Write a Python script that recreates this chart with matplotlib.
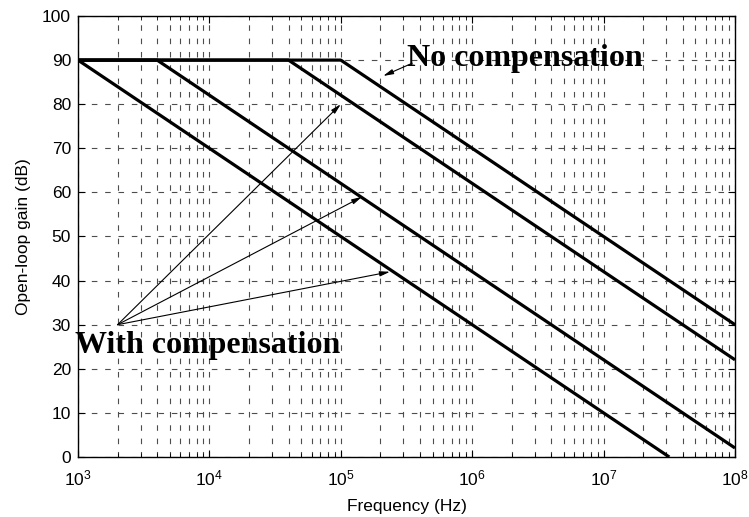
import matplotlib
matplotlib.use("Agg")
import matplotlib.pyplot as plt
import numpy as np
from matplotlib.ticker import LogLocator, LogFormatterMathtext, NullFormatter

# Data: corner frequencies (Hz) of each open-loop response, DC gain, slope
corner_freqs = [1e3, 4e3, 4e4, 1e5]
dc_gain = 90.0
slope_db_per_dec = -20.0
f_min, f_max = 1e3, 1e8

# Annotation data
arrow_origin = (2e3, 30)
arrow_tips = [(1.0e5, 80), (1.45e5, 59), (2.37e5, 42)]
nocomp_text_pos = (3.19e5, 88.7)
nocomp_arrow_from = (3.5e5, 89.3)
nocomp_arrow_to = (2.1e5, 86.4)
withcomp_text_pos = (948, 23.6)

yticks = list(range(0, 101, 10))

plt.rcParams['font.family'] = ['Liberation Sans', 'DejaVu Sans']

fig = plt.figure(figsize=(7.49, 5.17), dpi=100)
ax = fig.add_axes([78/749, 60/517, 657/749, 441/517])

for fc in corner_freqs:
    f0 = fc * 10 ** (dc_gain / -slope_db_per_dec)
    if f0 < f_max:
        f = np.array([f_min, fc, f0])
        g = np.array([dc_gain, dc_gain, 0.0])
    else:
        f = np.array([f_min, fc, f_max])
        g = np.array([dc_gain, dc_gain, dc_gain + slope_db_per_dec * np.log10(f_max / fc)])
    ax.plot(f, g, color='black', lw=2.3, solid_capstyle='butt', zorder=3)

ax.set_xscale('log')
ax.set_xlim(f_min, f_max)
ax.set_ylim(0, 100)
ax.set_yticks(yticks)
ax.xaxis.set_major_locator(LogLocator(base=10, numticks=10))
ax.xaxis.set_major_formatter(LogFormatterMathtext())
ax.xaxis.set_minor_locator(LogLocator(base=10, subs=np.arange(2, 10), numticks=50))
ax.xaxis.set_minor_formatter(NullFormatter())

grid_kw = dict(color='0.3', linestyle=(0, (5, 7)), linewidth=0.8)
ax.grid(True, which='major', axis='both', **grid_kw)
ax.grid(True, which='minor', axis='x', **grid_kw)
ax.set_axisbelow(True)

ax.tick_params(which='both', direction='in', top=True, right=True, labelsize=12.5)
ax.tick_params(which='major', length=5)
ax.tick_params(which='minor', length=3)
ax.tick_params(axis='x', which='major', pad=8)
ax.tick_params(axis='y', which='major', pad=5)
for s in ax.spines.values():
    s.set_linewidth(1.0)

ax.set_xlabel('Frequency (Hz)', fontsize=12.5, labelpad=8)
ax.set_ylabel('Open-loop gain (dB)', fontsize=12.5, labelpad=8)

arrow_kw = dict(arrowstyle='-|>,head_length=0.6,head_width=0.15', color='black', lw=0.8,
                shrinkA=0, shrinkB=0)
for tip in arrow_tips:
    ax.annotate('', xy=tip, xytext=arrow_origin, arrowprops=arrow_kw, zorder=4)
ax.annotate('', xy=nocomp_arrow_to, xytext=nocomp_arrow_from, arrowprops=arrow_kw, zorder=4)

ax.text(*nocomp_text_pos, 'No compensation', family='Liberation Serif', fontweight='bold',
        fontsize=23, va='baseline', ha='left', zorder=5)
ax.text(*withcomp_text_pos, 'With compensation', family='Liberation Serif', fontweight='bold',
        fontsize=23, va='baseline', ha='left', zorder=5)

fig.savefig('out.png', dpi=100)
